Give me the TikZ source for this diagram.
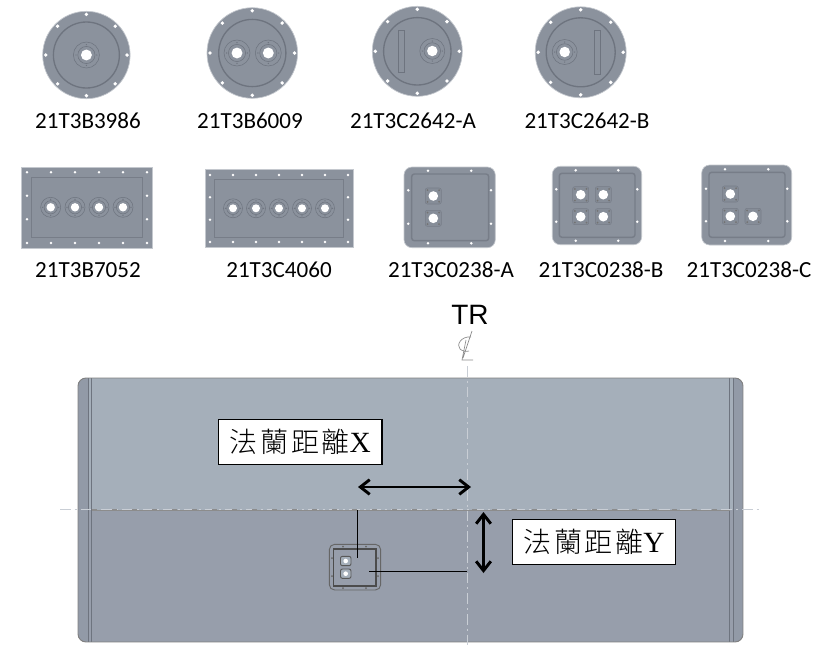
\documentclass[tikz,border=0pt]{standalone}
\usepackage{fontspec}
\setmainfont{Carlito}
\newfontfamily\trfont{Liberation Sans}
\newfontfamily\cjkfont{Noto Sans CJK TC Light}
\newfontfamily\latinserif{Liberation Serif}
\usetikzlibrary{arrows.meta,calc}
\definecolor{plate}{HTML}{8B929D}
\definecolor{plateedge}{HTML}{C4C8CE}
\definecolor{groove}{HTML}{6E747F}
\definecolor{grooveB}{HTML}{777D88}
\definecolor{tankup}{HTML}{A5AFBA}
\definecolor{tanklow}{HTML}{979EAB}
\definecolor{tankend}{HTML}{929AA7}
\definecolor{centre}{HTML}{C9CED5}
\tikzset{
  plateshape/.style={fill=plate,draw=plateedge,line width=0.5pt},
  ringline/.style={draw=groove,line width=0.4pt},
  mainring/.style={draw=groove,line width=1pt},
  hole/.style={fill=white,draw=none},
  partlabel/.style={font=\fontsize{17.3}{20}\selectfont,inner sep=0pt,text=black},
  callout/.style={draw=black,fill=white,line width=0.8pt,minimum width=122.5pt,minimum height=33.8pt,inner sep=0pt},
  leader/.style={draw=black,line width=0.8pt},
  dimarrow/.style={draw=black,line width=2.2pt,{Straight Barb[length=7pt,width=11pt,line width=2.2pt]}-{Straight Barb[length=7pt,width=11pt,line width=2.2pt]}},
  cline/.style={draw=centre,line width=0.7pt,dash pattern=on 8pt off 3pt on 1.5pt off 3pt},
}
\newcommand{\calloutText}[1]{{\cjkfont\fontsize{21}{23}\selectfont 法\kern2pt 蘭\kern2pt 距\kern2pt 離}{\latinserif\fontsize{22}{23}\selectfont #1}}
% round flange: x y R innerR
\newcommand{\roundplate}[4]{%
  \fill[plateshape] (#1,#2) circle[radius=#3];
  \draw[mainring] (#1,#2) circle[radius=#4];
  \foreach \ang in {0,45,...,315}
    \fill[hole] ($(#1,#2)+(\ang:#3-3)$) circle[radius=1.9];
}
% round boss: x y outer
\newcommand{\roundboss}[3]{%
  \draw[ringline] (#1,#2) circle[radius=#3];
  \draw[ringline] (#1,#2) circle[radius=#3*0.66];
  \foreach \ang in {0,90,180,270}
    \fill[groove] ($(#1,#2)+(\ang:#3*0.8)$) circle[radius=0.7];
  \fill[hole] (#1,#2) circle[radius=#3*0.42];
}
% square port: x y
\newcommand{\squareport}[2]{%
  \fill[fill=plate!75!grooveB,draw=grooveB,line width=0.4pt,rounded corners=1.5] (#1-8,#2-8) rectangle (#1+8,#2+8);
  \foreach \sx in {-1,1}\foreach \sy in {-1,1}
    \fill[black!55] (#1+\sx*5.8,#2+\sy*5.8) circle[radius=1];
  \fill[hole] (#1,#2) circle[radius=4.8];
}
\newcommand{\squareplate}[4]{%
  \fill[fill=plate,draw=plateedge,line width=0.5pt,rounded corners=6] #1 rectangle #2;
  \draw[draw=grooveB,line width=1.1pt,rounded corners=2] #3 rectangle #4;
}
\begin{document}
\begin{tikzpicture}[x=0.75pt,y=-0.75pt]
\useasboundingbox (0,0) rectangle (826,654);
\fill[white] (0,0) rectangle (826,654);

% --- round flanges
\roundplate{86.4}{55}{43.7}{33}
\roundboss{86.4}{55}{13}
\roundplate{252.3}{53}{45.3}{33.6}
\roundboss{237}{53}{13}
\roundboss{268.3}{53}{13}
\roundplate{417.3}{51.3}{45}{33.7}
\draw[ringline,fill=plate] (398.3,30) rectangle (404,72.6);
\roundboss{432.3}{51}{12.5}
\roundplate{580.7}{52.3}{45.5}{34.5}
\draw[ringline,fill=plate] (594,30.6) rectangle (600.3,74.6);
\roundboss{564.7}{52}{12.5}

% --- rectangular flanges
\fill[plateshape] (21.3,167.3) rectangle (152.3,248);
\draw[draw=grooveB,line width=1pt] (31.7,177.7) rectangle (142.3,237.7);
\foreach \bx in {27,51,75,99,123,147}{
  \fill[hole] (\bx,172.3) circle[radius=1.4];
  \fill[hole] (\bx,243) circle[radius=1.4];}
\foreach \bx in {27,147}\foreach \by in {195.7,219.3}
  \fill[hole] (\bx,\by) circle[radius=1.4];
\foreach \bx in {50.7,75,99,123}{\roundboss{\bx}{207.3}{10}}

\fill[plateshape] (205,169.7) rectangle (353.3,247.3);
\draw[draw=grooveB,line width=1pt] (214.3,179.3) rectangle (343.3,237.3);
\foreach \bx in {210,233,256,279,302,325,348}{
  \fill[hole] (\bx,175) circle[radius=1.4];
  \fill[hole] (\bx,242) circle[radius=1.4];}
\foreach \bx in {210,348}\foreach \by in {197.3,219.7}
  \fill[hole] (\bx,\by) circle[radius=1.4];
\foreach \bx in {233,256,279,302,325}{\roundboss{\bx}{208.3}{9.5}}

% --- square flanges
\squareplate{(404,167)}{(495.3,247.7)}{(411.7,174)}{(488.7,240.7)}
\foreach \bx in {428,471.3}{
  \fill[hole] (\bx,170.7) circle[radius=1.4];
  \fill[hole] (\bx,243.3) circle[radius=1.4];}
\foreach \bx in {408.3,491}\foreach \by in {190.3,223.7}
  \fill[hole] (\bx,\by) circle[radius=1.4];
\squareport{433.3}{196}
\squareport{433.3}{218.3}

\squareplate{(552.3,166.3)}{(641.7,244.7)}{(559.3,173.3)}{(635,237.3)}
\foreach \bx in {575.7,618.3}{
  \fill[hole] (\bx,170.3) circle[radius=1.4];
  \fill[hole] (\bx,240.7) circle[radius=1.4];}
\foreach \bx in {556.3,637.3}\foreach \by in {189.3,221.7}
  \fill[hole] (\bx,\by) circle[radius=1.4];
\squareport{580.7}{194.7}
\squareport{603.3}{194.7}
\squareport{580.7}{216.7}
\squareport{603.3}{216.7}

\squareplate{(701.7,165)}{(791.7,245)}{(709,172.3)}{(785,237.3)}
\foreach \bx in {725,768.3}{
  \fill[hole] (\bx,169.3) circle[radius=1.4];
  \fill[hole] (\bx,241) circle[radius=1.4];}
\foreach \bx in {706,787.3}\foreach \by in {188.7,221.3}
  \fill[hole] (\bx,\by) circle[radius=1.4];
\squareport{730.3}{194}
\squareport{730.3}{216.3}
\squareport{753}{216.3}

% --- part labels
\node[partlabel] (l1) at (88,121) {21T3B3986};
\node[partlabel] (l2) at (250,121) {21T3B6009};
\node[partlabel] (l3) at (413,121) {21T3C2642-A};
\node[partlabel] (l4) at (587,121) {21T3C2642-B};
\node[partlabel] (l5) at (88,270) {21T3B7052};
\node[partlabel] (l6) at (279,270) {21T3C4060};
\node[partlabel] (l7) at (451,270) {21T3C0238-A};
\node[partlabel] (l8) at (601,270) {21T3C0238-B};
\node[partlabel] (l9) at (749,270) {21T3C0238-C};

% --- tank
\begin{scope}
\clip[rounded corners=6] (78,378) rectangle (743,642);
\fill[tankup] (78,378) rectangle (743,510);
\fill[tanklow] (78,510) rectangle (743,642);
\fill[tankend] (78,378) rectangle (88,642);
\fill[tankend] (733,378) rectangle (743,642);
\end{scope}
\draw[draw=groove,line width=0.7pt] (88,378) -- (88,642) (91.5,378) -- (91.5,642);
\draw[draw=groove,line width=0.7pt] (729.5,378) -- (729.5,642) (733,378) -- (733,642);
\draw[draw=black!50,line width=0.7pt,rounded corners=6] (78,378) rectangle (743,642);

% --- centre lines
\coordinate (hl) at (60,509.5);
\coordinate (hr) at (762,509.5);
\coordinate (vt) at (467,366);
\coordinate (vb) at (467,647);
\draw[draw=black!45,line width=0.5pt] (92,510.5) -- (730,510.5);
\draw[cline] (hl) -- (hr);
\draw[draw=black!45,line width=0.5pt,dash pattern=on 4pt off 11pt] (92,509.5) -- (730,509.5);
\draw[cline] (vt) -- (vb);

% --- TR and centre-line mark
\node[font=\trfont\fontsize{21}{24}\selectfont,inner sep=0pt] (tr) at (470,315) {TR};
\draw[draw=black!45,line width=0.5pt] (472,331) -- (463,358)
  (471,337) .. controls (461,336) and (456,345) .. (460,349) .. controls (462,351) and (466,352) .. (469,351)
  (466,340) -- (462,360) -- (473,360);

% --- callouts
\node[callout] (bx) at (300.3,442.3) {\calloutText{X}};
\node[callout] (by) at (594,541.8) {\calloutText{Y}};

% --- small flange on tank
\draw[draw=black!60,fill=tanklow,line width=0.7pt,rounded corners=4] (329.3,544.3) rectangle (380.7,590);
\draw[draw=black!70,line width=0.9pt] (333.7,549) rectangle (376,586);
\foreach \bx in {343,366}{
  \fill[black!60] (\bx,546.5) circle[radius=1];
  \fill[black!60] (\bx,588) circle[radius=1];}
\foreach \by in {558,576}{
  \fill[black!60] (332,\by) circle[radius=1];
  \fill[black!60] (378,\by) circle[radius=1];}
\foreach \by in {561,573.7}{
  \fill[fill=tankup,draw=black!65,line width=0.7pt,rounded corners=1.5] (340.5,\by-4.7) rectangle (351,\by+4.7);
  \fill[white] (345.7,\by) circle[radius=2.3];}

% --- leaders and dimension arrows
\coordinate (xa) at (357.3,510);
\coordinate (xb) at (357.3,557.5);
\coordinate (ya) at (369,571.3);
\coordinate (yb) at (467,571.3);
\draw[leader] (xa) -- (xb);
\draw[leader] (ya) -- (yb);
\coordinate (dxa) at (358,487);
\coordinate (dxb) at (471,487);
\coordinate (dya) at (483.5,512);
\coordinate (dyb) at (483.5,573);
\draw[dimarrow] (dxa) -- (dxb);
\draw[dimarrow] (dya) -- (dyb);
\end{tikzpicture}
\end{document}
